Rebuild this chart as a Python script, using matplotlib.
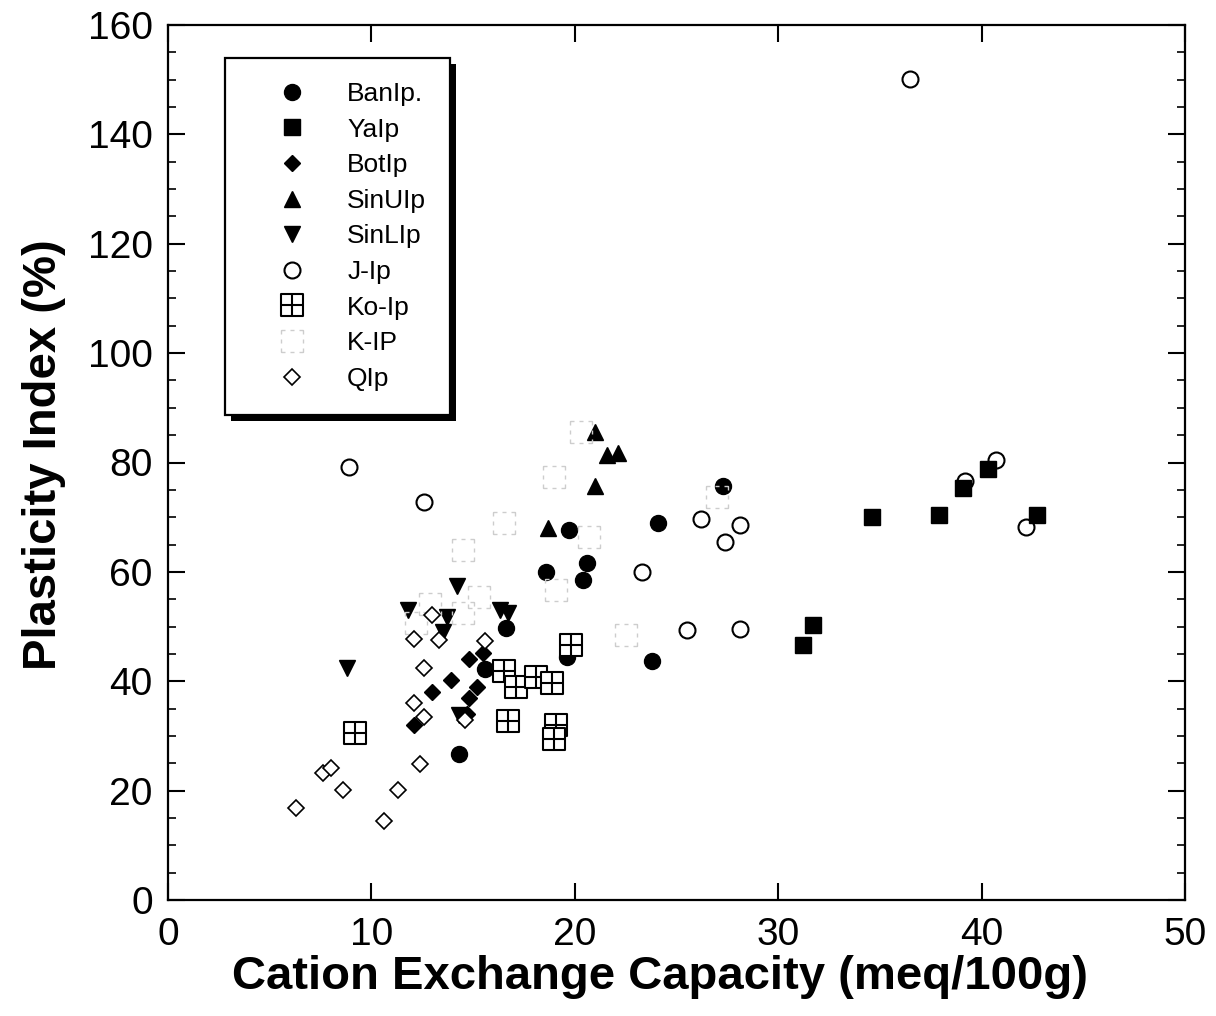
import matplotlib
matplotlib.use("Agg")
import matplotlib.pyplot as plt
from matplotlib.path import Path
from matplotlib.patches import Rectangle
from matplotlib.ticker import MultipleLocator
import numpy as np

plt.rcParams['font.family'] = ['Liberation Sans', 'DejaVu Sans']

# ---- data ----
ban_x = [14.3, 15.6, 16.6, 18.6, 19.6, 19.7, 20.4, 20.6, 23.8, 24.1, 27.3]
ban_y = [26.7, 42.2, 49.7, 60.0, 44.5, 67.6, 58.5, 61.7, 43.7, 69.0, 75.7]

ya_x = [31.2, 31.7, 34.6, 37.9, 39.1, 40.3, 42.7]
ya_y = [46.7, 50.2, 70.0, 70.4, 75.3, 78.9, 70.4]

bot_x = [12.1, 13.0, 13.9, 14.8, 15.5, 15.2, 14.8, 14.7]
bot_y = [32.0, 38.1, 40.3, 44.0, 45.1, 39.0, 36.9, 34.1]

sinu_x = [18.7, 21.0, 21.0, 21.6, 22.1]
sinu_y = [68.1, 75.7, 85.6, 81.4, 81.8]

sinl_x = [8.8, 11.8, 14.2, 13.7, 13.5, 16.3, 16.7, 14.3]
sinl_y = [42.4, 53.0, 57.5, 51.8, 49.0, 53.1, 52.4, 33.8]

j_x = [8.9, 12.6, 23.3, 25.5, 26.2, 27.4, 28.1, 28.1, 36.5, 39.2, 40.7, 42.2]
j_y = [79.2, 72.7, 59.9, 49.3, 69.7, 65.4, 68.5, 49.6, 150.1, 76.6, 80.4, 68.2]

ko_x = [9.2, 16.5, 16.7, 17.1, 18.1, 18.9, 19.1, 19.0, 19.8]
ko_y = [30.5, 41.9, 32.8, 38.9, 40.8, 39.7, 32.0, 29.4, 46.6]

k_x = [12.2, 12.9, 14.5, 14.5, 15.3, 16.5, 19.0, 19.1, 20.3, 20.7, 22.5, 27.0]
k_y = [50.6, 54.2, 52.4, 64.0, 55.4, 68.9, 77.4, 56.7, 85.6, 66.4, 48.4, 73.7]

q_x = [6.3, 7.6, 8.0, 8.6, 10.6, 11.3, 12.4, 12.1, 12.6, 12.6, 12.1, 13.0, 13.3, 15.6, 14.6]
q_y = [16.8, 23.3, 24.1, 20.2, 14.5, 20.2, 24.9, 36.1, 33.5, 42.5, 47.8, 52.1, 47.6, 47.4, 32.9]

labels = ["BanIp.", "YaIp", "BotIp", "SinUIp", "SinLIp", "J-Ip", "Ko-Ip", "K-IP", "QIp"]
x_ticks = [0, 10, 20, 30, 40, 50]
y_ticks = [0, 20, 40, 60, 80, 100, 120, 140, 160]

# ---- custom markers ----
ko_marker = Path(
    [(-0.5, -0.5), (0.5, -0.5), (0.5, 0.5), (-0.5, 0.5), (-0.5, -0.5),
     (-0.5, 0.0), (0.5, 0.0), (0.0, -0.5), (0.0, 0.5)],
    [Path.MOVETO, Path.LINETO, Path.LINETO, Path.LINETO, Path.CLOSEPOLY,
     Path.MOVETO, Path.LINETO, Path.MOVETO, Path.LINETO])

# dashed square outline
dv, dc = [], []
edges = [((-0.5, -0.5), (0.5, -0.5)), ((0.5, -0.5), (0.5, 0.5)),
         ((0.5, 0.5), (-0.5, 0.5)), ((-0.5, 0.5), (-0.5, -0.5))]
for (ax0, ay0), (ax1, ay1) in edges:
    for s0, s1 in [(0.0, 0.18), (0.42, 0.58), (0.82, 1.0)]:
        dv += [(ax0 + (ax1 - ax0) * s0, ay0 + (ay1 - ay0) * s0),
               (ax0 + (ax1 - ax0) * s1, ay0 + (ay1 - ay0) * s1)]
        dc += [Path.MOVETO, Path.LINETO]
k_marker = Path(dv, dc)

fig = plt.figure(figsize=(12.16, 10.16), dpi=100)
ax = fig.add_axes([168 / 1216, 116 / 1016, 1017 / 1216, 875 / 1016])

ax.plot(ban_x, ban_y, 'o', ms=11.5, color='black', label=labels[0], zorder=3)
ax.plot(ya_x, ya_y, 's', ms=12, color='black', label=labels[1], zorder=3)
ax.plot(bot_x, bot_y, 'D', ms=8, color='black', label=labels[2], zorder=3)
ax.plot(sinu_x, sinu_y, '^', ms=12, color='black', label=labels[3], zorder=3)
ax.plot(sinl_x, sinl_y, 'v', ms=12, color='black', label=labels[4], zorder=3)
ax.plot(j_x, j_y, 'o', ms=11.5, mfc='none', mec='black', mew=1.5, label=labels[5], zorder=3)
ax.plot(ko_x, ko_y, marker=ko_marker, ls='none', ms=16, mfc='white', mec='black', mew=1.5,
        label=labels[6], zorder=3)
ax.plot(k_x, k_y, marker=k_marker, ls='none', ms=16, mfc='none', mec='#cdcdcd', mew=1.0,
        label=labels[7], zorder=3)
ax.plot(q_x, q_y, 'D', ms=8, mfc='white', mec='black', mew=1.2, label=labels[8], zorder=3)

ax.set_xlim(0, 50)
ax.set_ylim(0, 160)
ax.set_xticks(x_ticks)
ax.set_yticks(y_ticks)
ax.yaxis.set_minor_locator(MultipleLocator(5))
ax.tick_params(axis='both', which='major', direction='in', length=12, width=1.5,
               top=True, right=True, labelsize=28, colors='black')
ax.tick_params(axis='y', which='minor', direction='in', length=6, width=1.2,
               left=True, right=True)
ax.tick_params(axis='x', which='major', pad=12)
ax.tick_params(axis='y', which='major', pad=11)
for sp in ax.spines.values():
    sp.set_linewidth(1.6)

ax.set_xlabel("Cation Exchange Capacity (meq/100g)", fontsize=34, fontweight='bold', labelpad=2)
ax.set_ylabel("Plasticity Index (%)", fontsize=34, fontweight='bold', labelpad=16)
ax.xaxis.label.set_x((660 - 168) / 1017)
ax.yaxis.label.set_y((900 - 455) / 875)

leg = ax.legend(loc='upper left', bbox_to_anchor=(0.056, 0.962), frameon=True,
                fancybox=False, edgecolor='black', framealpha=1, fontsize=19,
                borderpad=0.9, handlelength=3.3, handletextpad=0.43, labelspacing=0.44,
                borderaxespad=0, numpoints=1)
leg.get_frame().set_linewidth(1.6)
leg.set_zorder(6)

fig.canvas.draw()
bb = leg.get_window_extent().transformed(fig.transFigure.inverted())
dx, dy = 6 / 1216, 6 / 1016
shadow = Rectangle((bb.x0 + dx, bb.y0 - dy), bb.width, bb.height, transform=fig.transFigure,
                   facecolor='black', edgecolor='none', zorder=5.5, clip_on=False)
ax.add_artist(shadow)

fig.savefig("out.png", dpi=100)
